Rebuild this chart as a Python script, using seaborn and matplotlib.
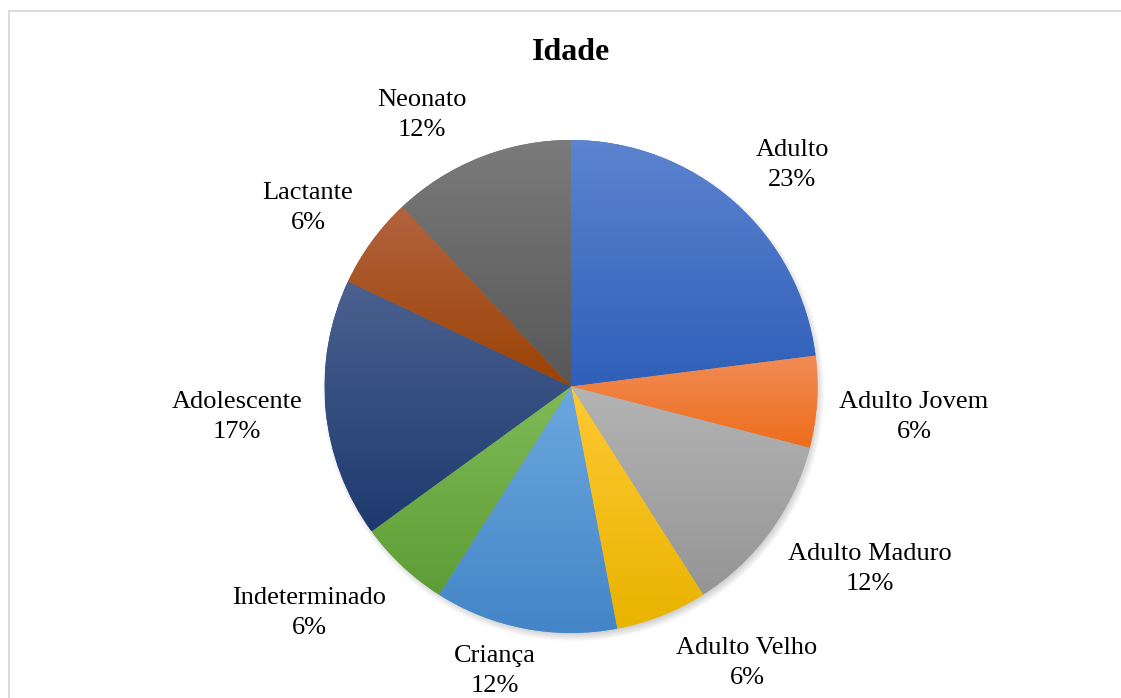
import numpy as np
import matplotlib
matplotlib.use("Agg")
import matplotlib.pyplot as plt
from matplotlib.colors import to_rgb
from matplotlib.patches import Rectangle
import seaborn as sns

# Age distribution of the sample (percent of individuals)
categories = ["Adulto", "Adulto Jovem", "Adulto Maduro", "Adulto Velho", "Criança",
              "Indeterminado", "Adolescente", "Lactante", "Neonato"]
percentages = [23, 6, 12, 6, 12, 6, 17, 6, 12]

# Gradient fill per slice: lighter tone at top, darker tone at bottom
top_colors = ["#5C84D0", "#F18C55", "#B4B4B4", "#FFC933", "#6CA8DF",
              "#7FBA57", "#4B6190", "#B2633F", "#7B7B7B"]
bottom_colors = ["#2F5FB9", "#EE6D1B", "#959595", "#E9B300", "#4385C7",
                 "#5E9D35", "#1D3A6E", "#9B4204", "#575757"]

# Layout (pixels, origin top-left)
W, H = 1121, 698
CX, CY, R = 571, 386.5, 246.5
label_xy = [(792, 165), (914, 417), (870, 569), (747, 663), (495, 671),
            (309, 613), (237, 417), (308, 208), (422, 115)]

sns.set_theme(style="white")
plt.rcParams["font.family"] = ["Liberation Serif", "DejaVu Serif"]

fig = plt.figure(figsize=(W / 100, H / 100), dpi=100)
ax = fig.add_axes([0, 0, 1, 1])

cy_up = H - CY
wedges, _ = ax.pie(percentages, startangle=90, counterclock=False,
                   center=(CX, cy_up), radius=R, frame=False,
                   colors=[c for c in top_colors],
                   wedgeprops=dict(linewidth=0, zorder=2))
ax.set_xlim(0, W)
ax.set_ylim(0, H)
ax.set_aspect("equal", adjustable="box")
ax.axis("off")

# Soft drop shadow under the pie
pad = 30
xs = np.linspace(CX - R - pad, CX + R + pad, 600)
ys = np.linspace(cy_up - R - pad, cy_up + R + pad, 600)
XX, YY = np.meshgrid(xs, ys)
d = np.hypot(XX - (CX + 2), YY - (cy_up - 4))
alpha = 0.30 * np.clip((R + 5 - d) / 9.0, 0, 1)
shadow = np.zeros((600, 600, 4))
shadow[..., :3] = 0.35
shadow[..., 3] = alpha
ax.imshow(shadow, extent=(xs[0], xs[-1], ys[0], ys[-1]), origin="lower",
          zorder=1, interpolation="bilinear")

# Vertical gradient inside each slice
for w, ct, cb in zip(wedges, top_colors, bottom_colors):
    ext = w.get_path().get_extents()
    n = 256
    t = np.linspace(0, 1, n)[:, None]
    grad = np.zeros((n, 1, 3))
    grad[:, 0, :] = (1 - t) * np.array(to_rgb(ct)) + t * np.array(to_rgb(cb))
    mid = tuple(0.5 * (np.array(to_rgb(ct)) + np.array(to_rgb(cb))))
    w.set_facecolor(mid)
    im = ax.imshow(grad, extent=(ext.x0, ext.x1, ext.y0, ext.y1), origin="upper",
                   aspect="auto", zorder=3, interpolation="bilinear")
    im.set_clip_path(w)
ax.set_xlim(0, W)
ax.set_ylim(0, H)

# Category labels with percentages
for name, pct, (lx, ly) in zip(categories, percentages, label_xy):
    ax.text(lx, H - ly, f"{name}\n{pct}%", ha="center", va="center",
            fontsize=19, color="#000000", linespacing=1.45, zorder=5)

ax.text(CX, H - 52, "Idade", ha="center", va="center", fontsize=23,
        fontweight="bold", color="#000000", zorder=5)

# Chart area border
ax.add_patch(Rectangle((8.5, -10), W + 20, H - 10.5 + 10, fill=False,
                       edgecolor="#D9D9D9", linewidth=1.3, zorder=6,
                       clip_on=False))

fig.savefig("out.png", dpi=100, facecolor="white")
